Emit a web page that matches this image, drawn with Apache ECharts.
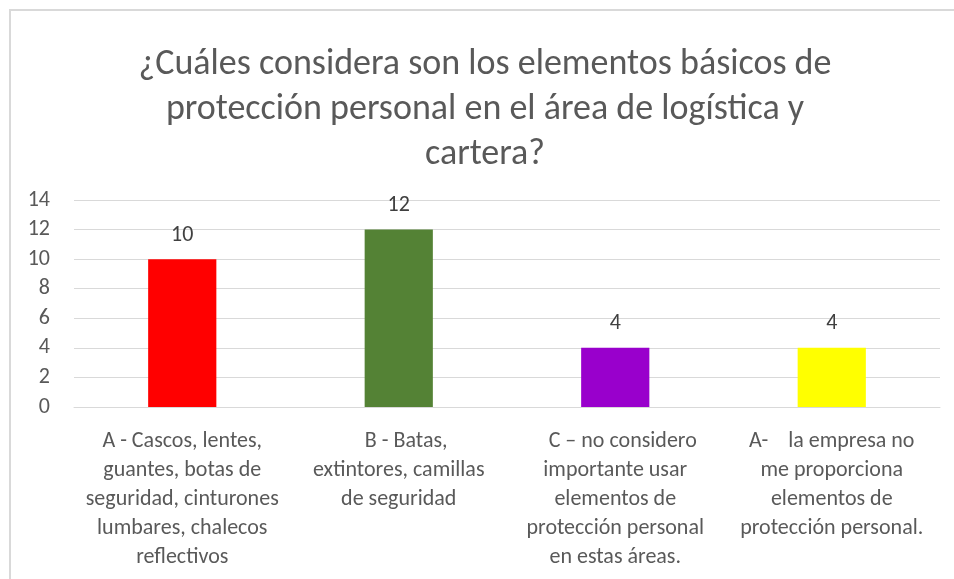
<!DOCTYPE html>
<html>
<head>
<meta charset="utf-8">
<title>chart</title>
<style>
html, body { margin: 0; padding: 0; background: #fff; }
#main { width: 954px; height: 579px; }
</style>
</head>
<body>
<div id="main"></div>
<script src="https://cdn.jsdelivr.net/npm/echarts@6/dist/echarts.min.js"></script>
<script>
// datos del gráfico
var categories = [
    'A - Cascos, lentes,\nguantes, botas de\nseguridad, cinturones\nlumbares, chalecos\nreflectivos',
    '   B - Batas,\nextintores, camillas\nde seguridad',
    '   C – no considero\nimportante usar\nelementos de\nprotección personal\nen estas áreas.',
    'A-    la empresa no\nme proporciona\nelementos de\nprotección personal.'
];
var values = [10, 12, 4, 4];
var barColors = ['#ff0000', '#548235', '#9900cc', '#ffff00'];
var titleText = '¿Cuáles considera son los elementos básicos de\nprotección personal en el área de logística y\ncartera?';

var fontFamily = 'Carlito, "Noto Sans", sans-serif';
var myChart = echarts.init(document.getElementById('main'));

var option = {
    animation: false,
    title: {
        text: titleText,
        left: 480,
        textAlign: 'center',
        top: 37,
        textStyle: {
            fontFamily: fontFamily,
            fontSize: 36,
            fontWeight: 'normal',
            color: '#595959',
            lineHeight: 45
        }
    },
    graphic: [{
        type: 'polyline',
        shape: { points: [[10, 579], [10, 10], [954, 10]] },
        style: { stroke: '#d9d9d9', lineWidth: 2, fill: null }
    }],
    grid: {
        left: 74,
        right: 14,
        top: 200,
        bottom: 172
    },
    xAxis: {
        type: 'category',
        data: categories,
        axisLine: { lineStyle: { color: '#d9d9d9' } },
        axisTick: { show: false },
        axisLabel: {
            interval: 0,
            margin: 20,
            fontFamily: fontFamily,
            fontSize: 22,
            lineHeight: 29,
            color: '#595959'
        }
    },
    yAxis: {
        type: 'value',
        min: 0,
        max: 14,
        interval: 2,
        axisLine: { show: false },
        axisTick: { show: false },
        splitLine: { lineStyle: { color: '#d9d9d9' } },
        axisLabel: {
            margin: 24,
            fontFamily: fontFamily,
            fontSize: 22,
            color: '#595959'
        }
    },
    series: [{
        type: 'bar',
        barWidth: '31.5%',
        data: values.map(function (v, i) {
            return { value: v, itemStyle: { color: barColors[i] } };
        }),
        label: {
            show: true,
            position: 'top',
            distance: 13,
            fontFamily: fontFamily,
            fontSize: 22,
            color: '#404040'
        }
    }]
};

myChart.setOption(option);
</script>
</body>
</html>
